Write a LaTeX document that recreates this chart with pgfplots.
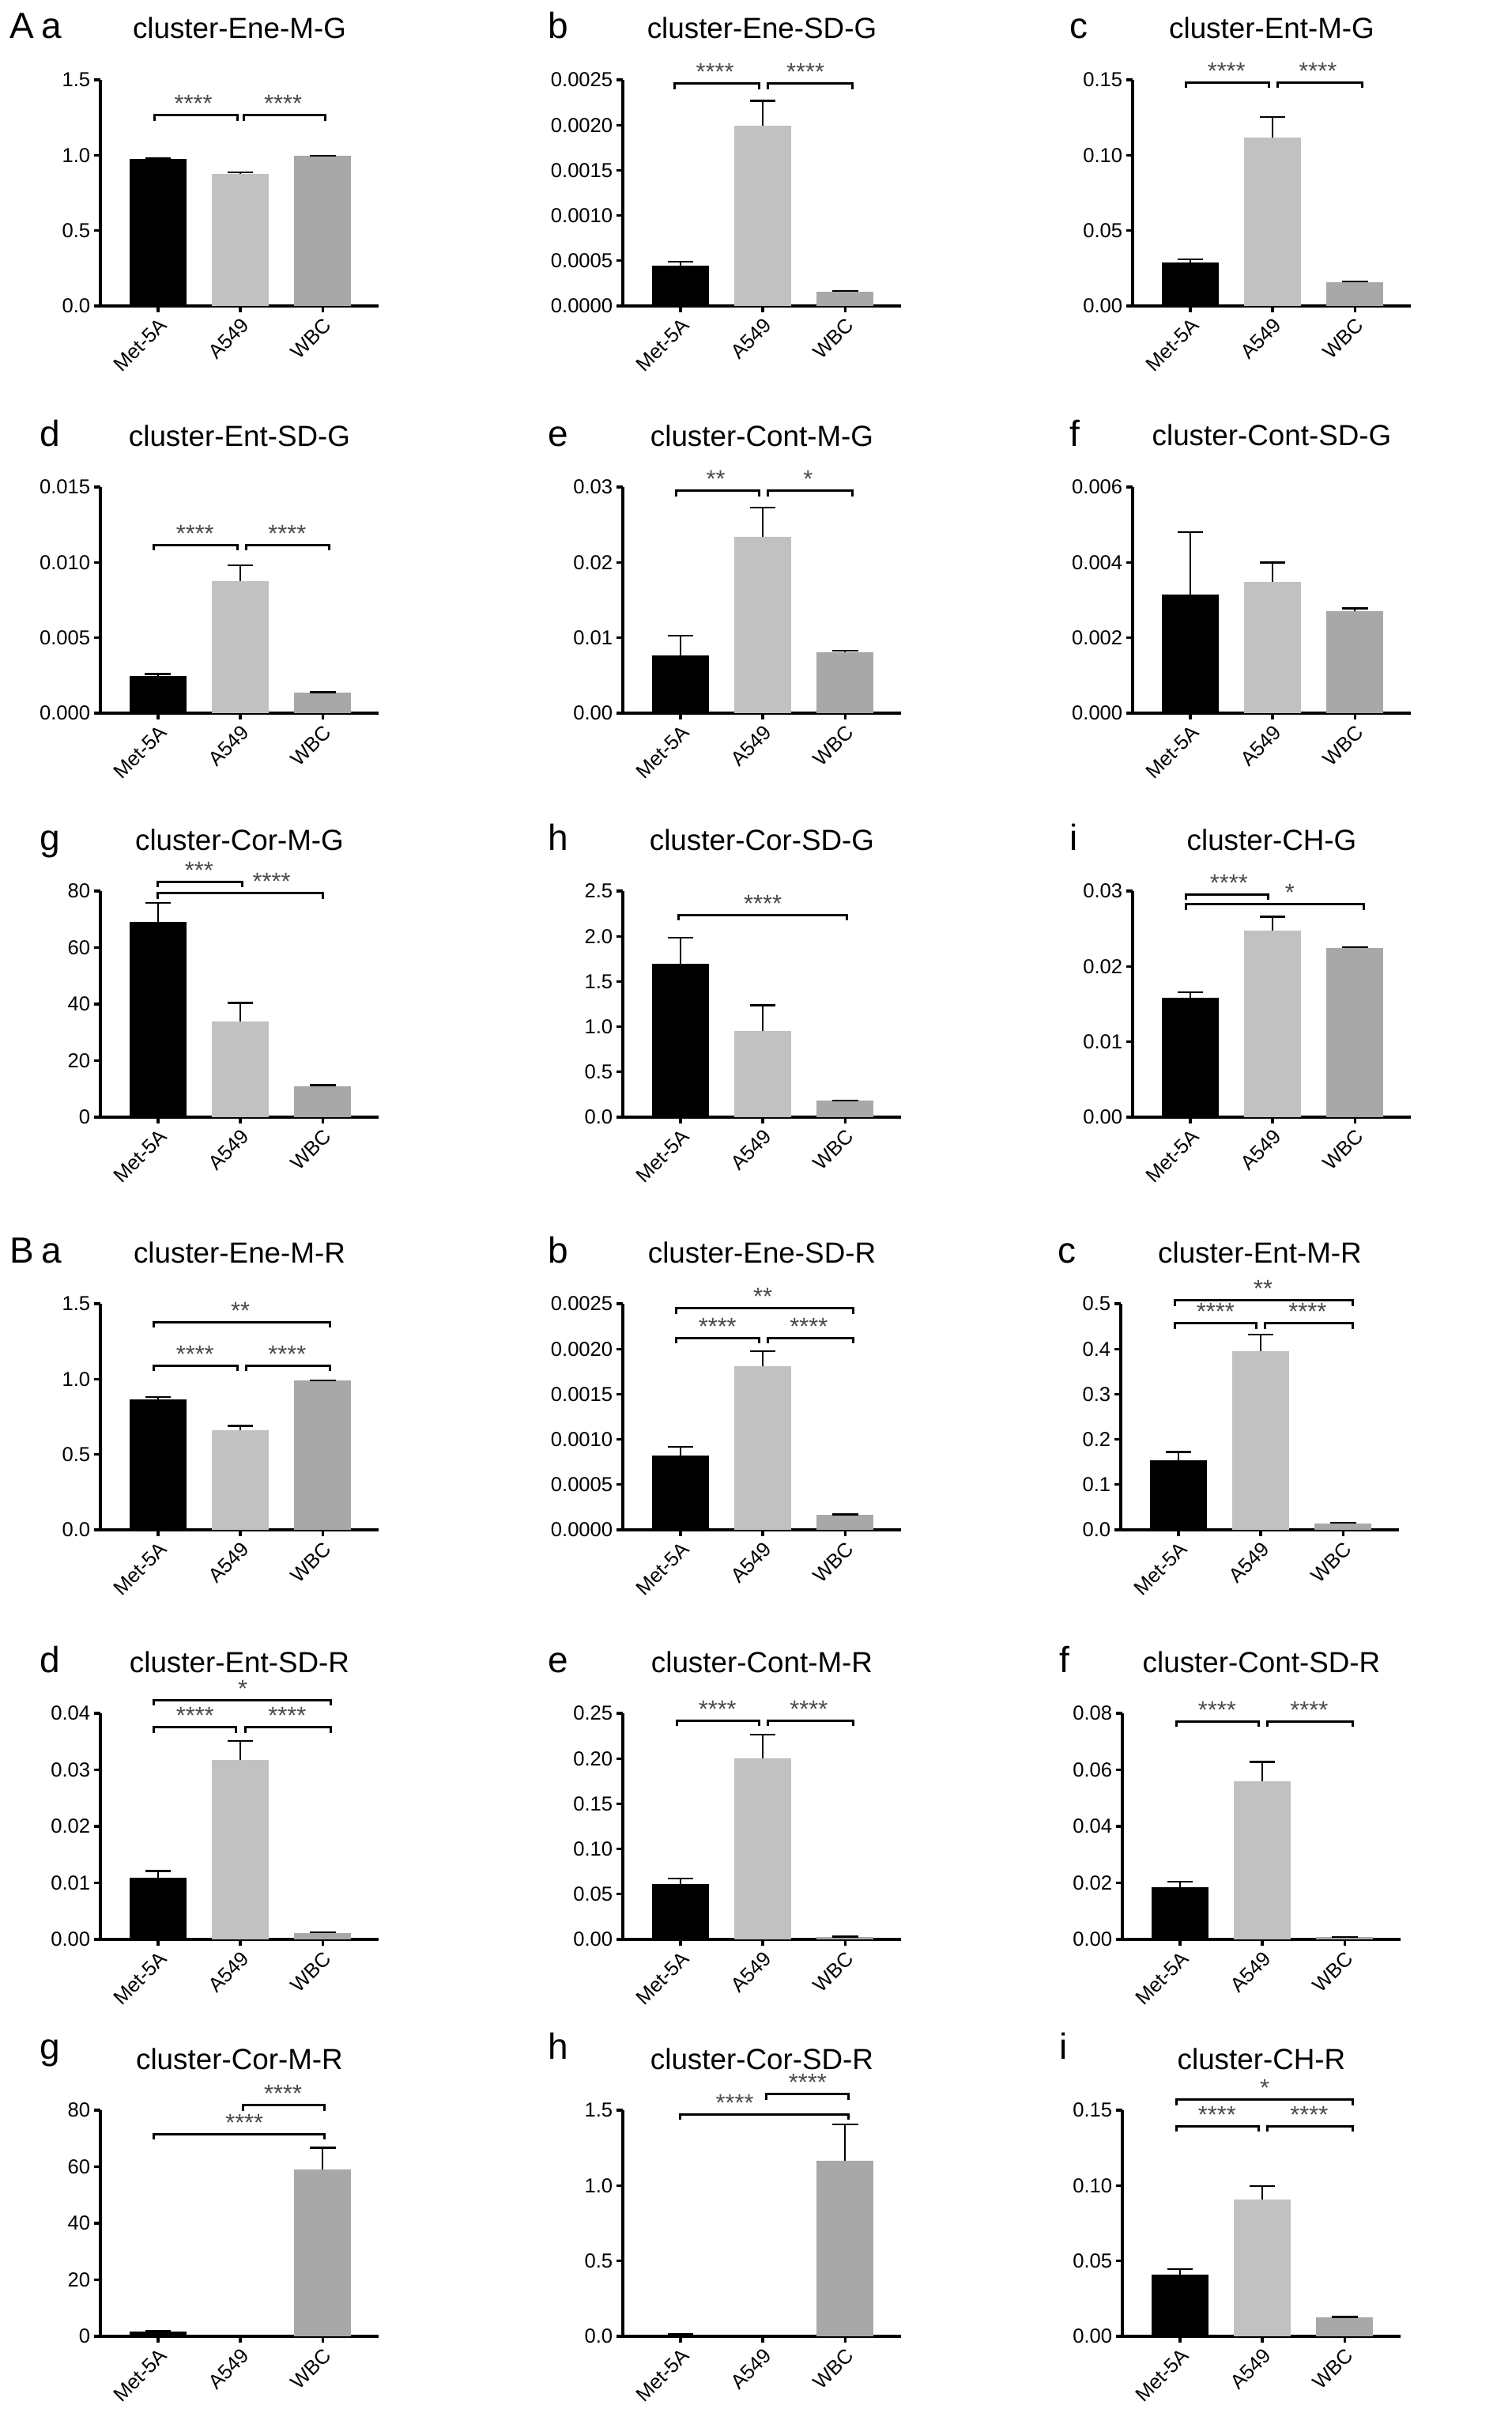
\documentclass[border=0pt]{standalone}
\usepackage{fontspec}
\setmainfont{Liberation Sans}
\usepackage{pgfplots}
\pgfplotsset{compat=1.18}
\definecolor{cA}{RGB}{193,193,193}
\definecolor{cW}{RGB}{168,168,168}
\definecolor{starc}{RGB}{75,75,75}
\newcommand\tickf{\fontsize{6.4pt}{7pt}\selectfont}
\newcommand\titf{\fontsize{9.2pt}{11pt}\selectfont}
\newcommand\letf{\fontsize{11.5pt}{13pt}\selectfont}
\newcommand\starf{\fontsize{7.7pt}{9pt}\selectfont}
\pgfplotsset{
  panel/.style={
    scale only axis, width=88pt, height=71.5pt, anchor=south west,
    xmin=-0.70, xmax=2.68, ymin=0, enlargelimits=false,
    axis x line=bottom, axis y line=left,
    axis line style={line width=0.8pt, -, black},
    x axis line style={-}, y axis line style={-},
    xtick={0,1,2}, xticklabels={Met-5A,A549,WBC},
    tick align=outside, major tick length=2pt,
    tick style={line width=0.8pt, black},
    xticklabel style={rotate=45, anchor=north east, font=\tickf, inner sep=0.8pt},
    yticklabel style={font=\tickf, inner sep=1pt},
    scaled y ticks=false,
    ybar, bar width=0.69, bar shift=0pt,
    clip=false,
  },
  errb/.style={error bars/.cd, y dir=plus, y explicit,
    error bar style={line width=0.6pt, black},
    error mark options={rotate=90, line width=0.6pt, black, mark size=4.1pt}},
}
\newcommand{\brk}[5]{%
  \draw[line width=0.75pt] ([yshift=-1.75pt]axis cs:#1,#3) -- (axis cs:#1,#3) -- (axis cs:#2,#3) -- ([yshift=-1.75pt]axis cs:#2,#3);
  \node[font=\starf, text=starc, anchor=base, inner sep=0pt] at ([yshift=1pt]axis cs:#4,#3) {#5};}
\newcommand{\ttl}[1]{\node[font=\titf, anchor=base, inner sep=0pt] at ([yshift=13pt]rel axis cs:0.5,1) {#1};}
\begin{document}
\begin{tikzpicture}
\useasboundingbox (0,0) rectangle (478.25pt,-767.75pt);
% ---------------- Row A1
\begin{axis}[panel, at={(31.75pt,-96.75pt)}, ymax=1.5, ytick={0,0.5,1,1.5}, yticklabels={0.0,0.5,1.0,1.5}]
\addplot[fill=black, draw=none, bar shift=0pt, errb] coordinates {(0,0.975) +- (0,0.004)};
\addplot[fill=cA, draw=none, bar shift=0pt, errb] coordinates {(1,0.875) +- (0,0.010)};
\addplot[fill=cW, draw=none, bar shift=0pt, errb] coordinates {(2,0.995) +- (0,0.002)};
\brk{-0.04}{0.97}{1.265}{0.43}{****}
\brk{1.04}{2.03}{1.265}{1.52}{****}
\ttl{cluster-Ene-M-G}
\end{axis}
\begin{axis}[panel, at={(197pt,-96.75pt)}, ymax=0.0025, ytick={0,0.0005,0.001,0.0015,0.002,0.0025}, yticklabels={0.0000,0.0005,0.0010,0.0015,0.0020,0.0025}]
\addplot[fill=black, draw=none, bar shift=0pt, errb] coordinates {(0,0.00045) +- (0,0.00004)};
\addplot[fill=cA, draw=none, bar shift=0pt, errb] coordinates {(1,0.00199) +- (0,0.00028)};
\addplot[fill=cW, draw=none, bar shift=0pt, errb] coordinates {(2,0.00016) +- (0,0.000005)};
\brk{-0.07}{0.96}{0.00246}{0.42}{****}
\brk{1.06}{2.09}{0.00246}{1.52}{****}
\ttl{cluster-Ene-SD-G}
\end{axis}
\begin{axis}[panel, at={(358.25pt,-96.75pt)}, ymax=0.15, ytick={0,0.05,0.1,0.15}, yticklabels={0.00,0.05,0.10,0.15}]
\addplot[fill=black, draw=none, bar shift=0pt, errb] coordinates {(0,0.0286) +- (0,0.0024)};
\addplot[fill=cA, draw=none, bar shift=0pt, errb] coordinates {(1,0.1118) +- (0,0.0137)};
\addplot[fill=cW, draw=none, bar shift=0pt, errb] coordinates {(2,0.0158) +- (0,0.0004)};
\brk{-0.05}{0.96}{0.1483}{0.44}{****}
\brk{1.06}{2.09}{0.1483}{1.55}{****}
\ttl{cluster-Ent-M-G}
\end{axis}
% ---------------- Row A2
\begin{axis}[panel, at={(31.75pt,-225.5pt)}, ymax=0.015, ytick={0,0.005,0.01,0.015}, yticklabels={0.000,0.005,0.010,0.015}]
\addplot[fill=black, draw=none, bar shift=0pt, errb] coordinates {(0,0.00246) +- (0,0.00013)};
\addplot[fill=cA, draw=none, bar shift=0pt, errb] coordinates {(1,0.00876) +- (0,0.00104)};
\addplot[fill=cW, draw=none, bar shift=0pt, errb] coordinates {(2,0.00137) +- (0,0.00003)};
\brk{-0.05}{0.97}{0.01117}{0.45}{****}
\brk{1.07}{2.08}{0.01117}{1.57}{****}
\ttl{cluster-Ent-SD-G}
\end{axis}
\begin{axis}[panel, at={(197pt,-225.5pt)}, ymax=0.03, ytick={0,0.01,0.02,0.03}, yticklabels={0.00,0.01,0.02,0.03}]
\addplot[fill=black, draw=none, bar shift=0pt, errb] coordinates {(0,0.0077) +- (0,0.0026)};
\addplot[fill=cA, draw=none, bar shift=0pt, errb] coordinates {(1,0.0234) +- (0,0.0039)};
\addplot[fill=cW, draw=none, bar shift=0pt, errb] coordinates {(2,0.0081) +- (0,0.0002)};
\brk{-0.05}{0.96}{0.0295}{0.43}{**}
\brk{1.06}{2.09}{0.0295}{1.55}{*}
\ttl{cluster-Cont-M-G}
\end{axis}
\begin{axis}[panel, at={(358.25pt,-225.5pt)}, ymax=0.006, ytick={0,0.002,0.004,0.006}, yticklabels={0.000,0.002,0.004,0.006}]
\addplot[fill=black, draw=none, bar shift=0pt, errb] coordinates {(0,0.00315) +- (0,0.00166)};
\addplot[fill=cA, draw=none, bar shift=0pt, errb] coordinates {(1,0.00349) +- (0,0.00051)};
\addplot[fill=cW, draw=none, bar shift=0pt, errb] coordinates {(2,0.00270) +- (0,0.00008)};
\ttl{cluster-Cont-SD-G}
\end{axis}
% ---------------- Row A3
\begin{axis}[panel, at={(31.75pt,-353.25pt)}, ymax=80, ytick={0,20,40,60,80}, yticklabels={0,20,40,60,80}]
\addplot[fill=black, draw=none, bar shift=0pt, errb] coordinates {(0,69.0) +- (0,6.8)};
\addplot[fill=cA, draw=none, bar shift=0pt, errb] coordinates {(1,33.9) +- (0,6.5)};
\addplot[fill=cW, draw=none, bar shift=0pt, errb] coordinates {(2,11.0) +- (0,0.3)};
\brk{0}{1.02}{83.3}{0.5}{***}
\brk{0}{2.0}{79.3}{1.38}{****}
\ttl{cluster-Cor-M-G}
\end{axis}
\begin{axis}[panel, at={(197pt,-353.25pt)}, ymax=2.5, ytick={0,0.5,1,1.5,2,2.5}, yticklabels={0.0,0.5,1.0,1.5,2.0,2.5}]
\addplot[fill=black, draw=none, bar shift=0pt, errb] coordinates {(0,1.696) +- (0,0.286)};
\addplot[fill=cA, draw=none, bar shift=0pt, errb] coordinates {(1,0.950) +- (0,0.287)};
\addplot[fill=cW, draw=none, bar shift=0pt, errb] coordinates {(2,0.181) +- (0,0.005)};
\brk{-0.02}{2.02}{2.237}{1.0}{****}
\ttl{cluster-Cor-SD-G}
\end{axis}
\begin{axis}[panel, at={(358.25pt,-353.25pt)}, ymax=0.03, ytick={0,0.01,0.02,0.03}, yticklabels={0.00,0.01,0.02,0.03}]
\addplot[fill=black, draw=none, bar shift=0pt, errb] coordinates {(0,0.0158) +- (0,0.0008)};
\addplot[fill=cA, draw=none, bar shift=0pt, errb] coordinates {(1,0.0248) +- (0,0.0018)};
\addplot[fill=cW, draw=none, bar shift=0pt, errb] coordinates {(2,0.02246) +- (0,0.0001)};
\brk{-0.05}{0.95}{0.02958}{0.47}{****}
\brk{-0.05}{2.11}{0.02825}{1.21}{*}
\ttl{cluster-CH-G}
\end{axis}
% ---------------- Row B1
\begin{axis}[panel, at={(31.75pt,-483.75pt)}, ymax=1.5, ytick={0,0.5,1,1.5}, yticklabels={0.0,0.5,1.0,1.5}]
\addplot[fill=black, draw=none, bar shift=0pt, errb] coordinates {(0,0.867) +- (0,0.014)};
\addplot[fill=cA, draw=none, bar shift=0pt, errb] coordinates {(1,0.663) +- (0,0.026)};
\addplot[fill=cW, draw=none, bar shift=0pt, errb] coordinates {(2,0.989) +- (0,0.003)};
\brk{-0.05}{0.97}{1.090}{0.45}{****}
\brk{1.07}{2.09}{1.090}{1.57}{****}
\brk{-0.05}{2.09}{1.378}{1.0}{**}
\ttl{cluster-Ene-M-R}
\end{axis}
\begin{axis}[panel, at={(197pt,-483.75pt)}, ymax=0.0025, ytick={0,0.0005,0.001,0.0015,0.002,0.0025}, yticklabels={0.0000,0.0005,0.0010,0.0015,0.0020,0.0025}]
\addplot[fill=black, draw=none, bar shift=0pt, errb] coordinates {(0,0.00082) +- (0,0.0001)};
\addplot[fill=cA, draw=none, bar shift=0pt, errb] coordinates {(1,0.001808) +- (0,0.00017)};
\addplot[fill=cW, draw=none, bar shift=0pt, errb] coordinates {(2,0.000166) +- (0,0.000005)};
\brk{-0.05}{0.96}{0.002122}{0.45}{****}
\brk{1.06}{2.1}{0.002122}{1.56}{****}
\brk{-0.05}{2.1}{0.002448}{1.0}{**}
\ttl{cluster-Ene-SD-R}
\end{axis}
\begin{axis}[panel, at={(354.5pt,-483.75pt)}, ymax=0.5, ytick={0,0.1,0.2,0.3,0.4,0.5}, yticklabels={0.0,0.1,0.2,0.3,0.4,0.5}]
\addplot[fill=black, draw=none, bar shift=0pt, errb] coordinates {(0,0.1537) +- (0,0.0186)};
\addplot[fill=cA, draw=none, bar shift=0pt, errb] coordinates {(1,0.3944) +- (0,0.0377)};
\addplot[fill=cW, draw=none, bar shift=0pt, errb] coordinates {(2,0.0145) +- (0,0.001)};
\brk{-0.04}{0.95}{0.4565}{0.45}{****}
\brk{1.05}{2.12}{0.4565}{1.57}{****}
\brk{-0.04}{2.12}{0.5075}{1.03}{**}
\ttl{cluster-Ent-M-R}
\end{axis}
% ---------------- Row B2
\begin{axis}[panel, at={(31.75pt,-613.25pt)}, ymax=0.04, ytick={0,0.01,0.02,0.03,0.04}, yticklabels={0.00,0.01,0.02,0.03,0.04}]
\addplot[fill=black, draw=none, bar shift=0pt, errb] coordinates {(0,0.01093) +- (0,0.0012)};
\addplot[fill=cA, draw=none, bar shift=0pt, errb] coordinates {(1,0.03172) +- (0,0.0034)};
\addplot[fill=cW, draw=none, bar shift=0pt, errb] coordinates {(2,0.00116) +- (0,0.0001)};
\brk{-0.05}{0.95}{0.03753}{0.45}{****}
\brk{1.06}{2.1}{0.03753}{1.57}{****}
\brk{-0.05}{2.1}{0.04233}{1.03}{*}
\ttl{cluster-Ent-SD-R}
\end{axis}
\begin{axis}[panel, at={(197pt,-613.25pt)}, ymax=0.25, ytick={0,0.05,0.1,0.15,0.2,0.25}, yticklabels={0.00,0.05,0.10,0.15,0.20,0.25}]
\addplot[fill=black, draw=none, bar shift=0pt, errb] coordinates {(0,0.0610) +- (0,0.0064)};
\addplot[fill=cA, draw=none, bar shift=0pt, errb] coordinates {(1,0.2006) +- (0,0.0256)};
\addplot[fill=cW, draw=none, bar shift=0pt, errb] coordinates {(2,0.0029) +- (0,0.0003)};
\brk{-0.04}{0.96}{0.2419}{0.45}{****}
\brk{1.06}{2.1}{0.2419}{1.56}{****}
\ttl{cluster-Cont-M-R}
\end{axis}
\begin{axis}[panel, at={(355pt,-613.25pt)}, ymax=0.08, ytick={0,0.02,0.04,0.06,0.08}, yticklabels={0.00,0.02,0.04,0.06,0.08}]
\addplot[fill=black, draw=none, bar shift=0pt, errb] coordinates {(0,0.0186) +- (0,0.0019)};
\addplot[fill=cA, draw=none, bar shift=0pt, errb] coordinates {(1,0.0560) +- (0,0.0068)};
\addplot[fill=cW, draw=none, bar shift=0pt, errb] coordinates {(2,0.00074) +- (0,0.00005)};
\brk{-0.04}{0.96}{0.0772}{0.45}{****}
\brk{1.06}{2.1}{0.0772}{1.57}{****}
\ttl{cluster-Cont-SD-R}
\end{axis}
% ---------------- Row B3
\begin{axis}[panel, at={(31.75pt,-738.75pt)}, ymax=80, ytick={0,20,40,60,80}, yticklabels={0,20,40,60,80}]
\addplot[fill=black, draw=none, bar shift=0pt, errb] coordinates {(0,1.58) +- (0,0.45)};
\addplot[fill=cW, draw=none, bar shift=0pt, errb] coordinates {(2,59.07) +- (0,7.7)};
\brk{1.03}{2.02}{81.7}{1.52}{****}
\brk{-0.05}{2.02}{71.6}{1.05}{****}
\ttl{cluster-Cor-M-R}
\end{axis}
\begin{axis}[panel, at={(197pt,-738.75pt)}, ymax=1.5, ytick={0,0.5,1,1.5}, yticklabels={0.0,0.5,1.0,1.5}]
\addplot[fill=black, draw=none, bar shift=0pt, errb] coordinates {(0,0.012) +- (0,0.003)};
\addplot[fill=cW, draw=none, bar shift=0pt, errb] coordinates {(2,1.163) +- (0,0.244)};
\brk{0}{2.04}{1.472}{0.66}{****}
\brk{1.04}{2.04}{1.606}{1.545}{****}
\ttl{cluster-Cor-SD-R}
\end{axis}
\begin{axis}[panel, at={(355pt,-738.75pt)}, ymax=0.15, ytick={0,0.05,0.1,0.15}, yticklabels={0.00,0.05,0.10,0.15}]
\addplot[fill=black, draw=none, bar shift=0pt, errb] coordinates {(0,0.0410) +- (0,0.0035)};
\addplot[fill=cA, draw=none, bar shift=0pt, errb] coordinates {(1,0.0910) +- (0,0.0087)};
\addplot[fill=cW, draw=none, bar shift=0pt, errb] coordinates {(2,0.01256) +- (0,0.0003)};
\brk{-0.04}{0.96}{0.1395}{0.45}{****}
\brk{1.06}{2.1}{0.1395}{1.57}{****}
\brk{-0.04}{2.1}{0.157}{1.03}{*}
\ttl{cluster-CH-R}
\end{axis}
% ---------------- panel letters
\begin{scope}[every node/.style={font=\letf, anchor=base west, inner sep=0pt}]
\node at (3pt,-12.25pt) {A};
\node at (13pt,-12.25pt) {a};
\node at (173.25pt,-12.25pt) {b};
\node at (338.25pt,-12.25pt) {c};
\node at (12.5pt,-141pt) {d};
\node at (173.25pt,-141pt) {e};
\node at (338.25pt,-141pt) {f};
\node at (12.5pt,-268.75pt) {g};
\node at (173.25pt,-268.75pt) {h};
\node at (338.25pt,-268.75pt) {i};
\node at (3pt,-399.25pt) {B};
\node at (13pt,-399.25pt) {a};
\node at (173.25pt,-399.25pt) {b};
\node at (334.5pt,-399.25pt) {c};
\node at (12.5pt,-528.75pt) {d};
\node at (173.25pt,-528.75pt) {e};
\node at (335pt,-528.75pt) {f};
\node at (12.5pt,-651pt) {g};
\node at (173.25pt,-651pt) {h};
\node at (335pt,-651pt) {i};
\end{scope}
\end{tikzpicture}
\end{document}
